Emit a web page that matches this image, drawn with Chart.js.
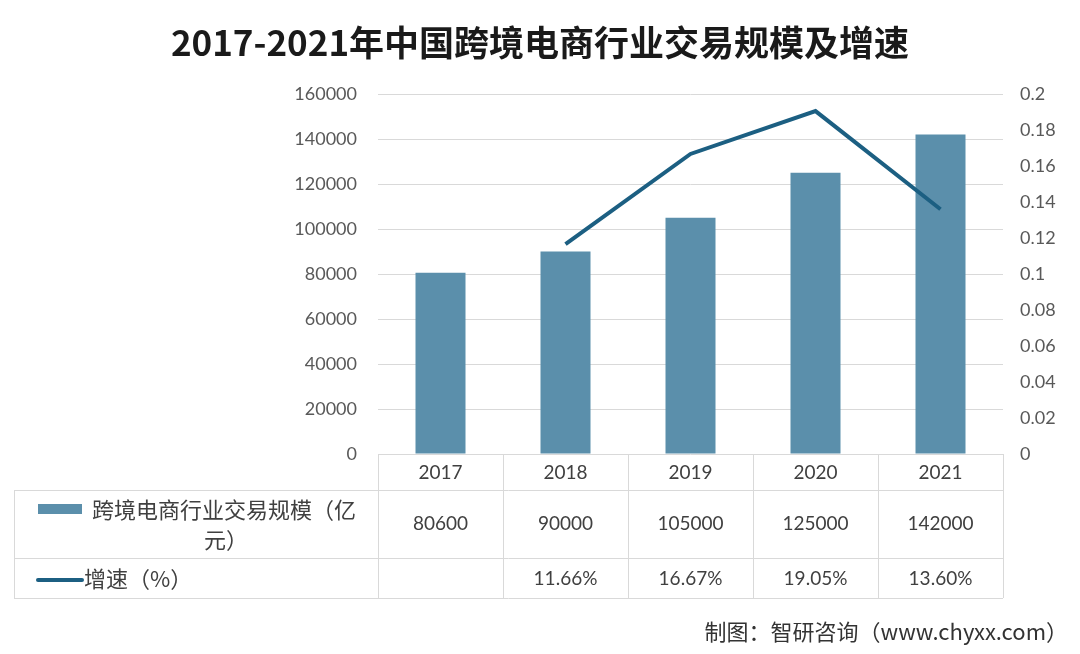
<!DOCTYPE html>
<html>
<head>
<meta charset="utf-8">
<script src="https://cdn.jsdelivr.net/npm/chart.js@4"></script>
<style>
  html, body { margin: 0; padding: 0; background: #fff; }
  #wrap { width: 1080px; height: 654px; position: relative; }
</style>
</head>
<body>
<div id="wrap"><canvas id="chart" width="1080" height="654"></canvas></div>
<script>
// data
const years = ['2017', '2018', '2019', '2020', '2021'];
const scaleValues = [80600, 90000, 105000, 125000, 142000];
const growthValues = [null, 0.1166, 0.1667, 0.1905, 0.1360];
const growthLabels = ['', '11.66%', '16.67%', '19.05%', '13.60%'];
const leftTicks = [0, 20000, 40000, 60000, 80000, 100000, 120000, 140000, 160000];
const rightTicks = [0, 0.02, 0.04, 0.06, 0.08, 0.1, 0.12, 0.14, 0.16, 0.18, 0.2];

const barColor = '#5b8fab';
const lineColor = '#1c5f82';
const gridColor = '#d9d9d9';
const numFont = 'Lato, "Noto Sans CJK SC", sans-serif';
const cjkFont = '"Noto Sans CJK SC", sans-serif';

// draws the data table under the plot, plus the source note
const tablePlugin = {
    id: 'dataTable',
    afterDraw(chart) {
        const ctx = chart.ctx;
        const x = chart.scales.x;
        const area = chart.chartArea;
        const rowTop = area.bottom;
        const row1 = rowTop + 36;
        const row2 = row1 + 68;
        const row3 = row2 + 40;
        const tableLeft = 14;
        const half = (x.getPixelForValue(1) - x.getPixelForValue(0)) / 2;

        ctx.save();
        ctx.strokeStyle = gridColor;
        ctx.lineWidth = 1;
        ctx.beginPath();
        // horizontal lines
        [row1, row2, row3].forEach(y => {
            ctx.moveTo(tableLeft, y + 0.5);
            ctx.lineTo(area.right, y + 0.5);
        });
        // vertical lines
        ctx.moveTo(tableLeft + 0.5, row1);
        ctx.lineTo(tableLeft + 0.5, row3);
        for (let i = 0; i <= years.length; i++) {
            const px = Math.round(x.getPixelForValue(i) - half) + 0.5;
            ctx.moveTo(px, rowTop);
            ctx.lineTo(px, row3);
        }
        ctx.stroke();

        ctx.textAlign = 'center';
        ctx.textBaseline = 'middle';
        ctx.fillStyle = '#404040';
        ctx.font = '19px ' + numFont;
        years.forEach((yr, i) => {
            const px = x.getPixelForValue(i);
            ctx.fillText(yr, px, (rowTop + row1) / 2 + 1);
            ctx.fillText(String(scaleValues[i]), px, (row1 + row2) / 2);
            ctx.fillText(growthLabels[i], px, (row2 + row3) / 2 + 1);
        });

        // legend keys inside table
        ctx.fillStyle = barColor;
        ctx.fillRect(38, row1 + 14, 44, 10);
        ctx.strokeStyle = lineColor;
        ctx.lineWidth = 4;
        ctx.lineCap = 'round';
        ctx.beginPath();
        ctx.moveTo(38, (row2 + row3) / 2 + 2);
        ctx.lineTo(82, (row2 + row3) / 2 + 2);
        ctx.stroke();

        ctx.fillStyle = '#404040';
        ctx.font = '22px ' + cjkFont;
        ctx.fillText('跨境电商行业交易规模（亿', 224, row1 + 20);
        ctx.fillText('元）', 226, row1 + 50);
        ctx.textAlign = 'left';
        ctx.fillText('增速（%）', 84, (row2 + row3) / 2 + 1);

        // source
        ctx.textAlign = 'right';
        ctx.fillStyle = '#333';
        ctx.font = '22px ' + cjkFont;
        ctx.fillText('制图：智研咨询（www.chyxx.com）', 1068, 632);
        ctx.restore();
    }
};

new Chart(document.getElementById('chart'), {
    data: {
        labels: years,
        datasets: [
            {
                type: 'line',
                label: '增速（%）',
                data: growthValues,
                yAxisID: 'y1',
                borderColor: lineColor,
                borderWidth: 4,
                pointRadius: 0,
                tension: 0,
                order: 0
            },
            {
                type: 'bar',
                label: '跨境电商行业交易规模（亿元）',
                data: scaleValues,
                yAxisID: 'y',
                backgroundColor: barColor,
                barPercentage: 0.4,
                categoryPercentage: 1,
                order: 1
            }
        ]
    },
    options: {
        responsive: false,
        animation: false,
        layout: { padding: { left: 0, right: 0, top: 0, bottom: 200 } },
        plugins: {
            legend: { display: false },
            tooltip: { enabled: false },
            title: {
                display: true,
                text: '2017-2021年中国跨境电商行业交易规模及增速',
                color: '#1a1a1a',
                font: { family: cjkFont, size: 35, weight: 'bold' },
                padding: { top: 22, bottom: 30 }
            }
        },
        scales: {
            x: {
                display: false,
                offset: true
            },
            y: {
                position: 'left',
                min: 0,
                max: 160000,
                afterBuildTicks: axis => { axis.ticks = leftTicks.map(v => ({ value: v })); },
                afterFit: axis => { axis.width = 378; },
                border: { display: false },
                grid: { color: gridColor, drawTicks: false },
                ticks: {
                    color: '#595959',
                    padding: 21,
                    font: { family: numFont, size: 18 },
                    callback: v => String(v)
                }
            },
            y1: {
                position: 'right',
                min: 0,
                max: 0.2,
                afterBuildTicks: axis => { axis.ticks = rightTicks.map(v => ({ value: v })); },
                afterFit: axis => { axis.width = 77; },
                border: { display: false },
                grid: { display: false, drawTicks: false },
                ticks: {
                    color: '#595959',
                    padding: 17,
                    font: { family: numFont, size: 18 },
                    callback: v => String(Math.round(v * 100) / 100)
                }
            }
        }
    },
    plugins: [tablePlugin]
});
</script>
</body>
</html>
